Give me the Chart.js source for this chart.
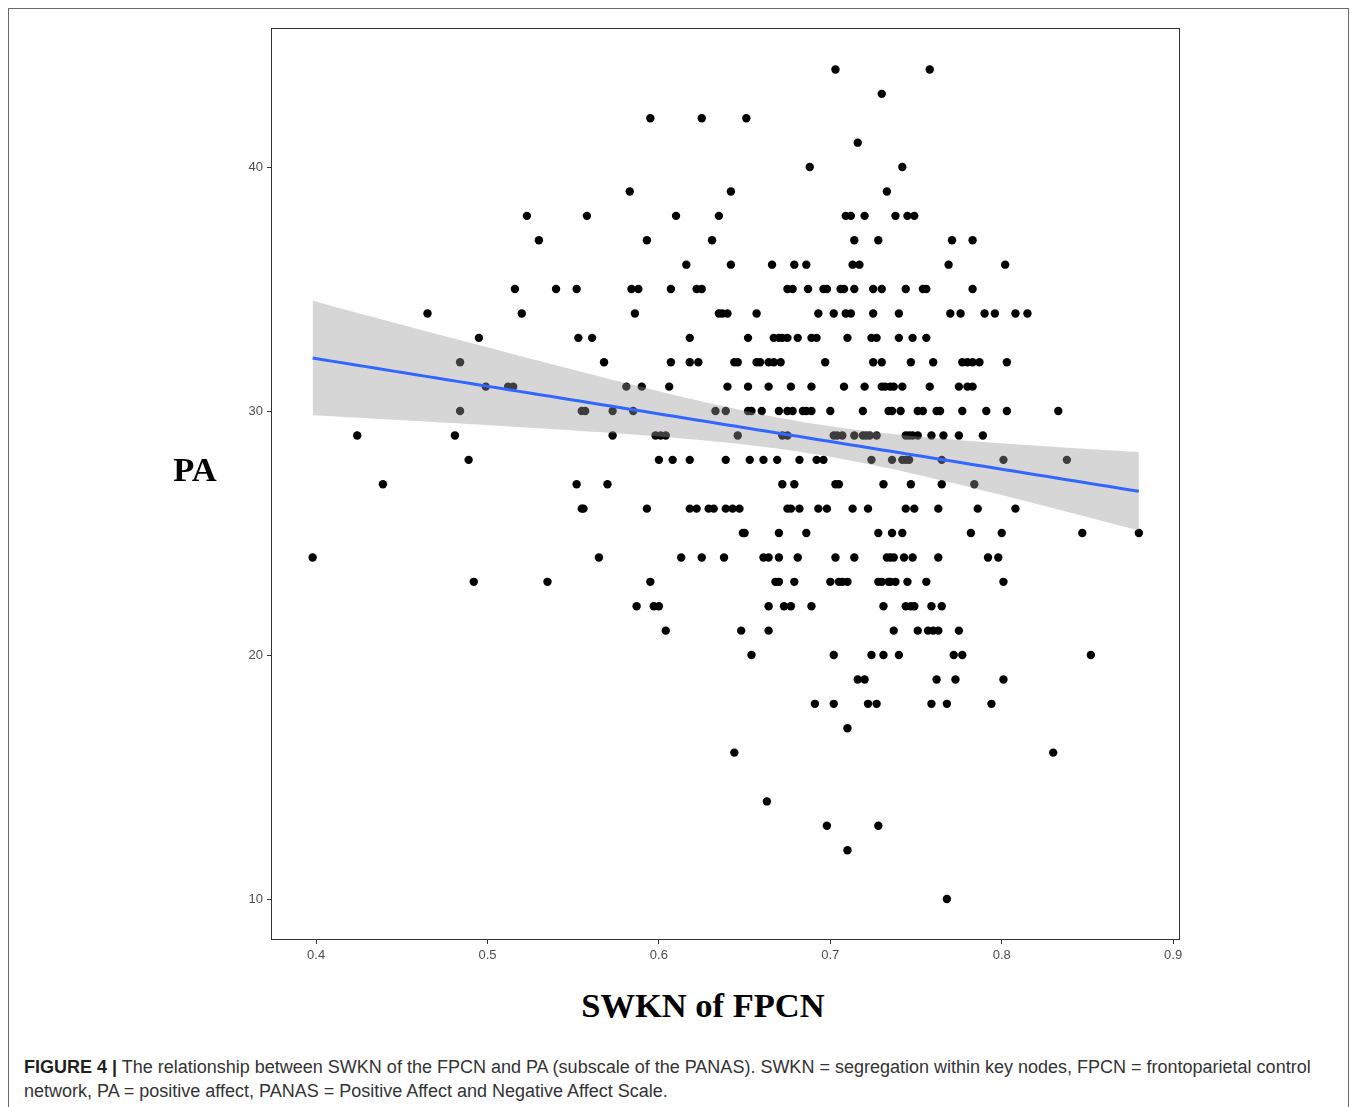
<!DOCTYPE html>
<html>
<head>
<meta charset="utf-8">
<script src="https://cdn.jsdelivr.net/npm/chart.js@4.4.1/dist/chart.umd.min.js"></script>
<style>
    body { margin: 0; background: #fff; width: 1358px; height: 1107px; overflow: hidden; position: relative; }
    #frame { position: absolute; left: 8px; top: 8px; width: 1341px; height: 1120px; border: 1px solid #6b6b6b; box-sizing: border-box; }
    #chart { position: absolute; left: 0; top: 0; }
    .axis-title { position: absolute; font-family: "Liberation Serif", "Times New Roman", serif; font-weight: bold; font-size: 34.5px; line-height: 34px; color: #000; white-space: nowrap; transform: translateX(-50%); }
    #caption { position: absolute; left: 24px; top: 1055px; font-family: "Liberation Sans", Arial, sans-serif; font-size: 18px; line-height: 24px; color: #333; white-space: nowrap; }
    #caption b { color: #231f20; }
</style>
</head>
<body>
<div id="frame"></div>
<canvas id="chart" width="1358" height="985"></canvas>
<div class="axis-title" style="left:195px; top:452px;">PA</div>
<div class="axis-title" style="left:703px; top:988px;">SWKN of FPCN</div>
<div id="caption"><b>FIGURE 4 |</b> The relationship between SWKN of the FPCN and PA (subscale of the PANAS). SWKN = segregation within key nodes, FPCN = frontoparietal control<br>network, PA = positive affect, PANAS = Positive Affect and Negative Affect Scale.</div>

<script>
// PA scores (integers) and the SWKN values for each PA level
const paLevels = [44, 43, 42, 41, 40, 39, 38, 37, 36, 35, 34, 33, 32, 31, 30, 29, 28, 27, 26, 25, 24, 23, 22, 21, 20, 19, 18, 17, 16, 14, 13, 12, 10];

const swknByLevel = [
    [0.703, 0.758],
    [0.730],
    [0.595, 0.625, 0.651],
    [0.716],
    [0.688, 0.742],
    [0.583, 0.642, 0.733],
    [0.523, 0.558, 0.610, 0.635, 0.709, 0.712, 0.720, 0.738, 0.745, 0.749],
    [0.530, 0.593, 0.631, 0.714, 0.728, 0.771, 0.783],
    [0.616, 0.642, 0.666, 0.679, 0.686, 0.713, 0.717, 0.769, 0.802],
    [0.516, 0.540, 0.552, 0.584, 0.588, 0.607, 0.622, 0.625, 0.675, 0.678, 0.687, 0.696, 0.698, 0.706, 0.708, 0.714, 0.725, 0.730, 0.744, 0.754, 0.756, 0.783],
    [0.465, 0.520, 0.586, 0.635, 0.637, 0.640, 0.657, 0.693, 0.702, 0.709, 0.712, 0.725, 0.740, 0.770, 0.776, 0.790, 0.796, 0.808, 0.815],
    [0.495, 0.553, 0.561, 0.618, 0.652, 0.667, 0.670, 0.672, 0.675, 0.681, 0.689, 0.692, 0.710, 0.724, 0.727, 0.740, 0.748, 0.756],
    [0.484, 0.568, 0.607, 0.618, 0.623, 0.644, 0.646, 0.657, 0.659, 0.664, 0.667, 0.671, 0.697, 0.725, 0.730, 0.747, 0.760, 0.777, 0.780, 0.783, 0.787, 0.803],
    [0.499, 0.512, 0.515, 0.581, 0.590, 0.606, 0.640, 0.652, 0.664, 0.677, 0.689, 0.708, 0.720, 0.730, 0.732, 0.735, 0.737, 0.742, 0.758, 0.775, 0.780, 0.783],
    [0.484, 0.555, 0.557, 0.573, 0.585, 0.633, 0.639, 0.652, 0.654, 0.660, 0.670, 0.675, 0.678, 0.684, 0.686, 0.689, 0.700, 0.719, 0.734, 0.736, 0.741, 0.751, 0.754, 0.762, 0.764, 0.777, 0.791, 0.803, 0.833],
    [0.424, 0.481, 0.573, 0.598, 0.601, 0.604, 0.646, 0.672, 0.675, 0.702, 0.704, 0.707, 0.714, 0.719, 0.721, 0.723, 0.727, 0.744, 0.746, 0.748, 0.751, 0.759, 0.766, 0.775, 0.789],
    [0.489, 0.600, 0.608, 0.618, 0.639, 0.653, 0.661, 0.669, 0.682, 0.692, 0.696, 0.724, 0.736, 0.742, 0.744, 0.746, 0.765, 0.801, 0.838],
    [0.439, 0.552, 0.570, 0.672, 0.679, 0.703, 0.705, 0.731, 0.747, 0.765, 0.784],
    [0.555, 0.556, 0.593, 0.618, 0.622, 0.629, 0.632, 0.639, 0.643, 0.647, 0.675, 0.677, 0.682, 0.693, 0.698, 0.713, 0.722, 0.744, 0.749, 0.763, 0.786, 0.808],
    [0.649, 0.650, 0.670, 0.686, 0.728, 0.736, 0.742, 0.782, 0.800, 0.847, 0.880],
    [0.398, 0.565, 0.613, 0.625, 0.638, 0.661, 0.664, 0.670, 0.681, 0.703, 0.714, 0.733, 0.735, 0.737, 0.743, 0.748, 0.763, 0.792, 0.798],
    [0.492, 0.535, 0.595, 0.668, 0.670, 0.679, 0.700, 0.705, 0.707, 0.710, 0.728, 0.730, 0.734, 0.735, 0.738, 0.745, 0.756, 0.801],
    [0.587, 0.597, 0.600, 0.664, 0.673, 0.677, 0.689, 0.731, 0.744, 0.747, 0.749, 0.759, 0.765],
    [0.604, 0.648, 0.664, 0.737, 0.751, 0.757, 0.760, 0.763, 0.775],
    [0.654, 0.702, 0.724, 0.731, 0.740, 0.772, 0.777, 0.852],
    [0.716, 0.720, 0.762, 0.773, 0.801],
    [0.691, 0.702, 0.722, 0.727, 0.759, 0.768, 0.794],
    [0.710],
    [0.644, 0.830],
    [0.663],
    [0.698, 0.728],
    [0.710],
    [0.768]
];

// axis ticks and limits
const xTicks = [0.4, 0.5, 0.6, 0.7, 0.8, 0.9];
const yTicks = [10, 20, 30, 40];
const xRange = [0.3737, 0.904];
const yRange = [8.32, 45.7];

// flatten into scatter points
const points = [];
paLevels.forEach((pa, i) => {
    swknByLevel[i].forEach(x => points.push({ x: x, y: pa }));
});

// linear fit with 95% confidence band (like geom_smooth(method = "lm"))
function fitLine(pts) {
    const n = pts.length;
    const mx = pts.reduce((s, p) => s + p.x, 0) / n;
    const my = pts.reduce((s, p) => s + p.y, 0) / n;
    let sxx = 0, sxy = 0;
    pts.forEach(p => { sxx += (p.x - mx) ** 2; sxy += (p.x - mx) * (p.y - my); });
    const b = sxy / sxx;
    const a = my - b * mx;
    let sse = 0;
    pts.forEach(p => { sse += (p.y - a - b * p.x) ** 2; });
    const s = Math.sqrt(sse / (n - 2));
    return { n, mx, sxx, a, b, s };
}

const fit = fitLine(points);
const tCrit = 1.967;
const xMin = Math.min(...points.map(p => p.x));
const xMax = Math.max(...points.map(p => p.x));

const lineData = [], upperData = [], lowerData = [];
const steps = 80;
for (let i = 0; i <= steps; i++) {
    const x = xMin + (xMax - xMin) * i / steps;
    const yHat = fit.a + fit.b * x;
    const se = fit.s * Math.sqrt(1 / fit.n + (x - fit.mx) ** 2 / fit.sxx);
    lineData.push({ x: x, y: yHat });
    upperData.push({ x: x, y: yHat + tCrit * se });
    lowerData.push({ x: x, y: yHat - tCrit * se });
}

// panel border on all four sides
const panelBorder = {
    id: 'panelBorder',
    afterDraw(chart) {
        const { ctx, chartArea: a } = chart;
        ctx.save();
        ctx.strokeStyle = '#333333';
        ctx.lineWidth = 1;
        ctx.strokeRect(Math.round(a.left) + 0.5, Math.round(a.top) + 0.5,
            Math.round(a.right - a.left) - 1, Math.round(a.bottom - a.top) - 1);
        ctx.restore();
    }
};

const tickFont = { family: 'Liberation Sans, Arial, sans-serif', size: 13 };

new Chart(document.getElementById('chart').getContext('2d'), {
    type: 'scatter',
    data: {
        datasets: [
            {
                type: 'line',
                data: lineData,
                borderColor: '#3366FF',
                borderWidth: 3,
                pointRadius: 0,
                fill: false
            },
            {
                type: 'line',
                data: upperData,
                borderWidth: 0,
                borderColor: 'rgba(0,0,0,0)',
                pointRadius: 0,
                backgroundColor: 'rgba(153,153,153,0.4)',
                fill: '+1'
            },
            {
                type: 'line',
                data: lowerData,
                borderWidth: 0,
                borderColor: 'rgba(0,0,0,0)',
                pointRadius: 0,
                fill: false
            },
            {
                data: points,
                backgroundColor: '#000000',
                borderWidth: 0,
                pointRadius: 4.2,
                pointHoverRadius: 4.2
            }
        ]
    },
    options: {
        responsive: false,
        animation: false,
        layout: { padding: { left: 0, top: 28, right: 178, bottom: 0 } },
        plugins: {
            legend: { display: false },
            tooltip: { enabled: false }
        },
        scales: {
            x: {
                type: 'linear',
                min: xRange[0],
                max: xRange[1],
                afterBuildTicks: scale => { scale.ticks = xTicks.map(v => ({ value: v })); },
                afterFit: scale => { scale.height = 45; },
                ticks: {
                    color: '#4d4d4d',
                    font: tickFont,
                    padding: 4,
                    maxRotation: 0,
                    callback: value => value.toFixed(1)
                },
                grid: {
                    drawOnChartArea: false,
                    drawTicks: true,
                    tickLength: 4,
                    color: '#333333'
                },
                border: { display: false }
            },
            y: {
                type: 'linear',
                min: yRange[0],
                max: yRange[1],
                afterBuildTicks: scale => { scale.ticks = yTicks.map(v => ({ value: v })); },
                afterFit: scale => { scale.width = 271; },
                ticks: {
                    color: '#4d4d4d',
                    font: tickFont,
                    padding: 4,
                    callback: value => String(value)
                },
                grid: {
                    drawOnChartArea: false,
                    drawTicks: true,
                    tickLength: 4,
                    color: '#333333'
                },
                border: { display: false }
            }
        }
    },
    plugins: [panelBorder]
});
</script>
</body>
</html>
